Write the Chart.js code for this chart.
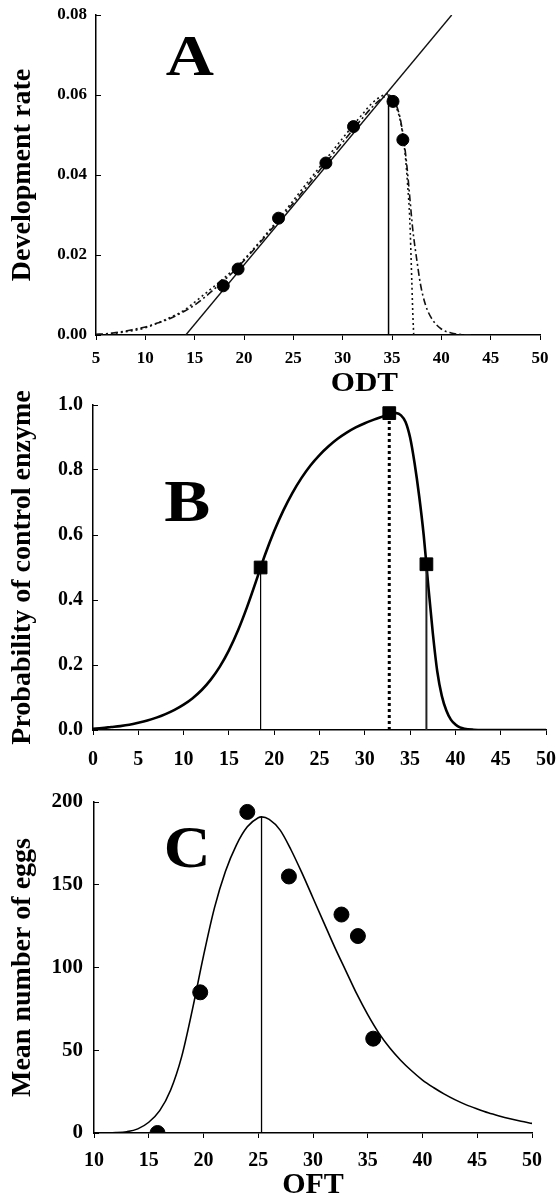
<!DOCTYPE html>
<html><head><meta charset="utf-8">
<script src="https://cdn.jsdelivr.net/npm/chart.js@4/dist/chart.umd.min.js"></script>
<style>
html,body{margin:0;padding:0;background:#fff;}
#wrap{position:relative;width:556px;height:1200px;overflow:hidden;background:#fff;}
canvas{position:absolute;left:0;}
</style></head><body>
<div id="wrap">
<canvas id="cA" width="556" height="400" style="top:0"></canvas>
<canvas id="cB" width="556" height="420" style="top:360px"></canvas>
<canvas id="cC" width="556" height="420" style="top:780px"></canvas>
</div>
<script>
// ---------- Panel A: development rate vs temperature ----------
const aObsT    = [17.9, 19.4, 23.5, 28.3, 31.1, 35.1, 36.1];
const aObsRate = [0.0123, 0.0165, 0.0292, 0.0430, 0.0521, 0.0584, 0.0488];
const aLinT    = [14.1, 41.05];
const aLinRate = [0, 0.08];
const aFit1T    = [5,6,7,8,9,10,11,12,13,14,15,16,17,18,19,20,22,24,26,28,30,32,33,34,34.7,35.3,35.8,36.2,36.5,36.8,37.1,37.5,37.9,38.4,39,40,41,42,43];
const aFit1Rate = [0.0002,0.0003,0.0006,0.001,0.0015,0.002,0.0028,0.0036,0.0047,0.006,0.0075,0.0094,0.0115,0.0137,0.016,0.0186,0.0242,0.0300,0.0360,0.0422,0.0482,0.0542,0.0570,0.0592,0.0600,0.0582,0.0545,0.0487,0.0425,0.0345,0.0265,0.0190,0.0125,0.0075,0.0042,0.0015,0.0005,0.0001,0];
const aFit2T    = [6,8,10,12,14,15,16,17,18,19,20,22,24,26,28,30,32,33,34,34.6,35.2,35.8,36.3,36.6,36.8,37.0,37.1,37.2];
const aFit2Rate = [0.0002,0.0008,0.0018,0.0038,0.0063,0.0082,0.0102,0.0122,0.0143,0.0165,0.0189,0.0245,0.0305,0.0368,0.043,0.0492,0.0552,0.058,0.0598,0.0603,0.058,0.054,0.046,0.037,0.029,0.014,0.006,0];
const aOptT    = [34.65, 34.65];
const aOptRate = [0, 0.0598];
const aXTicks  = ['5','10','15','20','25','30','35','40','45','50'];
const aYTicks  = ['0.00','0.02','0.04','0.06','0.08'];

// ---------- Panel B: probability of control enzyme ----------
const bT = [0,1,2,3,4,5,6,7,8,9,10,11,12,13,14,15,16,17,18,18.5,19,20,21,22,23,24,25,26,27,28,29,30,31,32,32.7,33,33.5,34,34.5,35,35.5,36,36.5,36.8,37,37.5,38,38.5,39,39.5,40,40.5,41,42,43,44,46,48,50];
const bP = [0.004,0.006,0.009,0.012,0.016,0.022,0.029,0.038,0.049,0.062,0.078,0.098,0.123,0.155,0.195,0.245,0.306,0.378,0.458,0.5,0.54,0.612,0.675,0.729,0.775,0.814,0.846,0.873,0.896,0.915,0.931,0.944,0.955,0.965,0.972,0.975,0.975,0.968,0.948,0.9,0.82,0.72,0.6,0.51,0.445,0.3,0.18,0.105,0.06,0.032,0.017,0.008,0.004,0.001,0,0,0,0,0];
const bSqT = [18.5, 32.7, 36.8];
const bSqP = [0.5, 0.975, 0.51];
const bLowT = [18.5, 18.5],  bLowP = [0, 0.5];
const bOptT = [32.7, 32.7],  bOptP = [0, 0.975];
const bHighT = [36.8, 36.8], bHighP = [0, 0.51];
const bXTicks = ['0','5','10','15','20','25','30','35','40','45','50'];
const bYTicks = ['0.0','0.2','0.4','0.6','0.8','1.0'];

// ---------- Panel C: mean number of eggs ----------
const cObsT    = [15.8, 19.7, 24.0, 27.8, 32.6, 34.1, 35.5];
const cObsEggs = [0, 85, 194, 155, 132, 119, 57];
const cFitT    = [10,11,12,13,14,15,16,17,18,19,20,21,22,23,24,25,25.3,26,27,28,29,30,31,32,33,34,35,36,37,38,39,40,41,42,43,44,45,46,47,48,49,50];
const cFitEggs = [0,0.05,0.2,0.8,2.5,6.5,13.5,26,46,75,107,136,158,174,185,190.5,191,189.5,183,171,157,142,127,112,98,84,71.5,60.5,51.5,44,37.6,32,27.5,23.5,20,17,14.5,12.2,10.3,8.6,7.1,5.8];
const cOptT    = [25.3, 25.3];
const cOptEggs = [0, 191];
const cXTicks  = ['10','15','20','25','30','35','40','45','50'];
const cYTicks  = ['0','50','100','150','200'];

const FONT = '"Liberation Serif", "Times New Roman", serif';
Chart.defaults.font.family = FONT;
Chart.defaults.font.weight = 'bold';
Chart.defaults.color = '#000';

const pts = (xs, ys) => xs.map((x, i) => ({x, y: ys[i]}));

const textPlugin = {
  id: 'txt',
  afterDraw(chart, args, opts) {
    const {ctx, scales: {x, y}} = chart;
    (opts.items || []).forEach(it => {
      ctx.save();
      ctx.font = `bold ${it.size}px ${FONT}`;
      ctx.fillStyle = '#000';
      ctx.textAlign = 'center';
      ctx.textBaseline = 'middle';
      ctx.translate(x.getPixelForValue(it.x), y.getPixelForValue(it.y));
      ctx.scale(it.sx || 1, 1);
      ctx.fillText(it.text, 0, 0);
      ctx.restore();
    });
  }
};

function scales(o) {
  return {
    x: {
      type: 'linear', min: o.xmin, max: o.xmax,
      ticks: {stepSize: 5, font: {size: o.xfs}, padding: o.xpad,
              callback: (v, i) => o.xt[i]},
      grid: {drawOnChartArea: false, tickLength: 5, color: '#000', lineWidth: 1},
      border: {color: '#000', width: 1.5},
      title: o.xtitle ? {display: true, text: o.xtitle, font: {size: o.xtfs, lineHeight: 1}, padding: 0} : {display: false},
      afterFit(s) { s.height = o.xh; s.paddingLeft = 0; s.paddingRight = 0; }
    },
    y: {
      type: 'linear', min: o.ymin, max: o.ymax,
      ticks: {stepSize: o.ystep, font: {size: o.yfs}, padding: o.ypad,
              callback: (v, i) => o.yt[i]},
      grid: {drawOnChartArea: false, tickLength: -5, color: '#000', lineWidth: 1},
      border: {color: '#000', width: 1.5},
      title: {display: true, text: o.ytitle, font: {size: 28, lineHeight: 1.2}, padding: {top: 6, bottom: 0}},
      afterFit(s) { s.width = o.yw; s.paddingTop = 0; s.paddingBottom = 0; }
    }
  };
}

const common = {
  responsive: false, animation: false, events: [],
  plugins: {legend: {display: false}, tooltip: {enabled: false}}
};

// ---- Chart A ----
new Chart(document.getElementById('cA'), {
  type: 'scatter',
  data: {datasets: [
    {data: pts(aObsT, aObsRate), pointRadius: 6, pointBackgroundColor: '#000', pointBorderColor: '#000', showLine: false},
    {data: pts(aOptT, aOptRate), showLine: true, borderColor: '#000', borderWidth: 1.5, pointRadius: 0},
    {data: pts(aLinT, aLinRate), showLine: true, borderColor: '#111', borderWidth: 1.4, pointRadius: 0},
    {data: pts(aFit1T, aFit1Rate), showLine: true, borderColor: '#111', borderWidth: 1.6, borderDash: [7, 3, 2, 3], pointRadius: 0, cubicInterpolationMode: 'monotone'},
    {data: pts(aFit2T, aFit2Rate), showLine: true, borderColor: '#111', borderWidth: 1.6, borderDash: [2, 3], pointRadius: 0, cubicInterpolationMode: 'monotone'}
  ]},
  options: Object.assign({}, common, {
    layout: {padding: {left: 0, top: 15, right: 16, bottom: 0}},
    scales: scales({xmin: 5, xmax: 50, ymin: 0, ymax: 0.08, ystep: 0.02, xt: aXTicks, yt: aYTicks,
      xfs: 17, yfs: 17, xpad: 8, ypad: 14, xh: 65, yw: 96, ytitle: 'Development rate'}),
    plugins: Object.assign({}, common.plugins, {txt: {items: [
      {text: 'A', x: 14.5, y: 0.0688, size: 58, sx: 1.15},
      {text: 'ODT', x: 32.2, y: -0.0122, size: 27, sx: 1.15}
    ]}})
  }),
  plugins: [textPlugin]
});

// ---- Chart B ----
new Chart(document.getElementById('cB'), {
  type: 'scatter',
  data: {datasets: [
    {data: pts(bSqT, bSqP), pointStyle: 'rect', pointRadius: 9, pointBackgroundColor: '#000', pointBorderColor: '#000', showLine: false},
    {data: pts(bLowT, bLowP), showLine: true, borderColor: '#000', borderWidth: 1.2, pointRadius: 0},
    {data: pts(bOptT, bOptP), showLine: true, borderColor: '#000', borderWidth: 3, borderDash: [3, 3], pointRadius: 0},
    {data: pts(bHighT, bHighP), showLine: true, borderColor: '#222', borderWidth: 2, pointRadius: 0},
    {data: pts(bT, bP), showLine: true, borderColor: '#000', borderWidth: 2.6, pointRadius: 0, cubicInterpolationMode: 'monotone'}
  ]},
  options: Object.assign({}, common, {
    layout: {padding: {left: 0, top: 45, right: 8, bottom: 0}},
    scales: scales({xmin: 0, xmax: 50, ymin: 0, ymax: 1, ystep: 0.2, xt: bXTicks, yt: bYTicks,
      xfs: 20, yfs: 20, xpad: 13, ypad: 15, xh: 50, yw: 93, ytitle: 'Probability of control enzyme'}),
    plugins: Object.assign({}, common.plugins, {txt: {items: [
      {text: 'B', x: 10.4, y: 0.692, size: 60, sx: 1.15}
    ]}})
  }),
  plugins: [textPlugin]
});

// ---- Chart C ----
new Chart(document.getElementById('cC'), {
  type: 'scatter',
  data: {datasets: [
    {data: pts(cObsT, cObsEggs), pointRadius: 7.5, pointBackgroundColor: '#000', pointBorderColor: '#000', showLine: false},
    {data: pts(cOptT, cOptEggs), showLine: true, borderColor: '#000', borderWidth: 1.3, pointRadius: 0},
    {data: pts(cFitT, cFitEggs), showLine: true, borderColor: '#000', borderWidth: 1.6, pointRadius: 0, cubicInterpolationMode: 'monotone'}
  ]},
  options: Object.assign({}, common, {
    layout: {padding: {left: 0, top: 22, right: 24, bottom: 0}},
    scales: scales({xmin: 10, xmax: 50, ymin: 0, ymax: 200, ystep: 50, xt: cXTicks, yt: cYTicks,
      xfs: 20, yfs: 21, xpad: 11, ypad: 16, xh: 67, yw: 94, ytitle: 'Mean number of eggs',
      xtitle: 'OFT', xtfs: 30}),
    plugins: Object.assign({}, common.plugins, {txt: {items: [
      {text: 'C', x: 18.5, y: 170, size: 59, sx: 1.1}
    ]}})
  }),
  plugins: [textPlugin]
});
</script>
</body></html>
